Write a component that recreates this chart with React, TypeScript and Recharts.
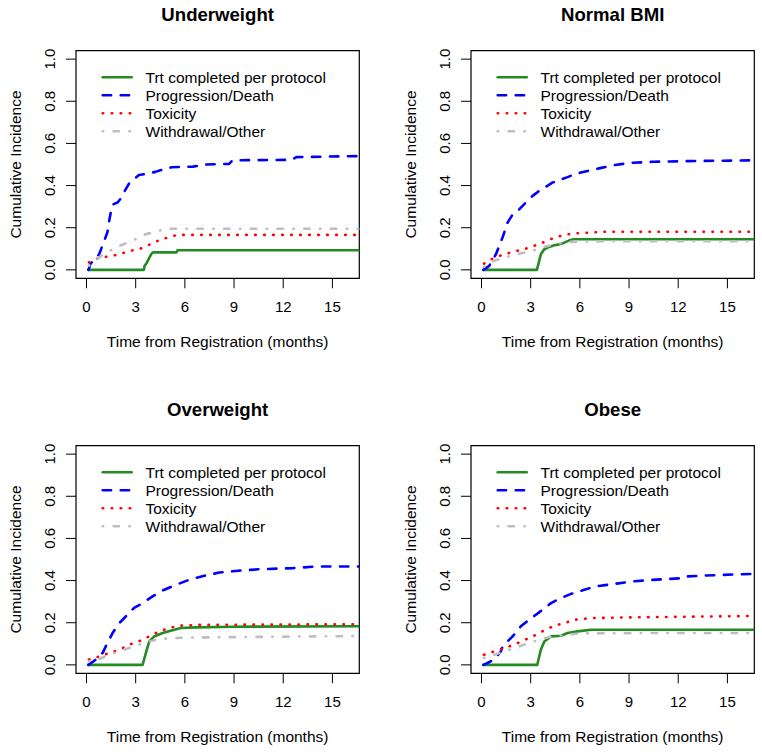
import React from 'react';
import { LineChart, Line, XAxis, YAxis, ReferenceArea, Legend } from 'recharts';

type Pt = [number, number];

// ---------- tick labels / categories ----------
const X_TICKS = [0, 3, 6, 9, 12, 15];
const Y_TICKS = [0, 0.2, 0.4, 0.6, 0.8, 1.0];
const Y_TICK_LABELS = ['0.0', '0.2', '0.4', '0.6', '0.8', '1.0'];
const SERIES_NAMES = ['Trt completed per protocol', 'Progression/Death', 'Toxicity', 'Withdrawal/Other'];
const PANEL_TITLES = ['Underweight', 'Normal BMI', 'Overweight', 'Obese'];
const X_TITLE = 'Time from Registration (months)';
const Y_TITLE = 'Cumulative Incidence';

// ---------- Underweight ----------
const uwTrt: Pt[] = [[0.1, 0], [3.5, 0], [3.55, 0.02], [3.65, 0.03], [3.75, 0.045], [3.85, 0.06], [3.95, 0.075], [4.05, 0.083], [5.5, 0.083], [5.55, 0.093], [16.64, 0.093]];
const uwProg: Pt[] = [[0.12, 0], [0.25, 0.03], [0.5, 0.05], [0.77, 0.074], [1.0, 0.12], [1.28, 0.18], [1.4, 0.24], [1.5, 0.28], [1.6, 0.31], [1.9, 0.32], [2.1, 0.34], [2.3, 0.37], [2.6, 0.41], [2.9, 0.43], [3.2, 0.45], [3.7, 0.456], [4.2, 0.465], [4.6, 0.475], [5.2, 0.487], [6.5, 0.49], [7.3, 0.5], [8.7, 0.503], [8.9, 0.52], [12.5, 0.522], [12.8, 0.535], [16.64, 0.54]];
const uwTox: Pt[] = [[0.15, 0.035], [0.5, 0.05], [1.0, 0.06], [1.5, 0.066], [2.0, 0.074], [2.6, 0.09], [3.2, 0.098], [3.7, 0.114], [4.1, 0.13], [4.6, 0.145], [5.2, 0.16], [5.6, 0.166], [16.64, 0.166]];
const uwWd: Pt[] = [[0.15, 0.02], [0.55, 0.043], [1.0, 0.074], [1.4, 0.09], [2.0, 0.114], [2.6, 0.132], [3.2, 0.153], [3.6, 0.169], [4.2, 0.181], [4.7, 0.192], [5.2, 0.195], [16.64, 0.195]];

// ---------- Normal BMI ----------
const nbTrt: Pt[] = [[0.1, 0], [3.38, 0], [3.52, 0.043], [3.62, 0.074], [3.83, 0.098], [4.13, 0.109], [4.44, 0.117], [4.74, 0.121], [5.05, 0.129], [5.36, 0.14], [5.66, 0.145], [16.64, 0.145]];
const nbProg: Pt[] = [[0.12, 0], [0.47, 0.019], [0.88, 0.074], [1.28, 0.153], [1.59, 0.224], [1.9, 0.263], [2.3, 0.287], [2.7, 0.319], [3.1, 0.35], [3.5, 0.374], [3.9, 0.393], [4.3, 0.413], [4.85, 0.429], [5.25, 0.44], [5.75, 0.456], [6.4, 0.468], [7.3, 0.484], [8.1, 0.497], [9.1, 0.508], [10.5, 0.513], [12.6, 0.516], [16.64, 0.52]];
const nbTox: Pt[] = [[0.15, 0.03], [0.77, 0.058], [1.38, 0.074], [2.0, 0.087], [2.6, 0.098], [3.2, 0.114], [3.83, 0.132], [4.44, 0.153], [5.05, 0.166], [5.66, 0.173], [7.5, 0.181], [16.64, 0.181]];
const nbWd: Pt[] = [[0.15, 0.014], [0.77, 0.043], [1.38, 0.058], [2.0, 0.071], [2.6, 0.082], [3.2, 0.093], [3.83, 0.109], [4.44, 0.121], [5.05, 0.131], [5.66, 0.134], [8, 0.136], [16.64, 0.136]];

// ---------- Overweight ----------
const owTrt: Pt[] = [[0.1, 0], [3.42, 0], [3.62, 0.056], [3.83, 0.111], [4.13, 0.135], [4.64, 0.151], [5.25, 0.164], [5.76, 0.175], [6.68, 0.178], [9, 0.181], [16.64, 0.183]];
const owProg: Pt[] = [[0.12, 0], [0.57, 0.025], [0.98, 0.056], [1.28, 0.104], [1.59, 0.151], [2.0, 0.198], [2.5, 0.238], [2.9, 0.27], [3.42, 0.293], [4.03, 0.325], [4.64, 0.353], [5.46, 0.38], [6.27, 0.404], [7.19, 0.423], [8.1, 0.438], [9.3, 0.447], [10.55, 0.454], [12.6, 0.459], [14.0, 0.467], [16.64, 0.467]];
const owTox: Pt[] = [[0.15, 0.025], [0.77, 0.04], [1.38, 0.056], [2.0, 0.072], [2.6, 0.096], [3.2, 0.112], [3.83, 0.135], [4.44, 0.159], [5.05, 0.175], [5.66, 0.186], [7, 0.19], [16.64, 0.193]];
const owWd: Pt[] = [[0.15, 0.017], [0.77, 0.028], [1.38, 0.048], [2.0, 0.064], [2.6, 0.08], [3.2, 0.096], [3.83, 0.111], [4.44, 0.122], [5.25, 0.127], [6.47, 0.13], [9.5, 0.132], [16.64, 0.137]];

// ---------- Obese ----------
const obTrt: Pt[] = [[0.1, 0], [3.4, 0], [3.52, 0.04], [3.62, 0.072], [3.83, 0.111], [4.24, 0.135], [4.85, 0.138], [5.25, 0.151], [5.86, 0.159], [6.68, 0.167], [16.64, 0.167]];
const obProg: Pt[] = [[0.12, 0], [0.37, 0.009], [0.77, 0.025], [1.18, 0.064], [1.3, 0.09], [1.9, 0.135], [2.4, 0.183], [2.9, 0.214], [3.32, 0.238], [3.73, 0.262], [4.24, 0.293], [4.85, 0.317], [5.46, 0.337], [6.27, 0.356], [6.9, 0.372], [8.1, 0.384], [9.1, 0.395], [10.35, 0.403], [12.2, 0.411], [12.4, 0.419], [13.6, 0.424], [16.64, 0.432]];
const obTox: Pt[] = [[0.15, 0.048], [0.77, 0.064], [1.38, 0.08], [2.0, 0.096], [2.6, 0.117], [3.2, 0.138], [3.83, 0.164], [4.44, 0.186], [5.05, 0.198], [5.66, 0.214], [6.68, 0.222], [9.5, 0.226], [16.64, 0.232]];
const obWd: Pt[] = [[0.15, 0.033], [0.77, 0.048], [1.38, 0.064], [2.0, 0.08], [2.6, 0.096], [3.2, 0.111], [3.83, 0.127], [4.44, 0.135], [5.05, 0.143], [6.07, 0.149], [9.5, 0.151], [16.64, 0.151]];

const PANEL_SERIES: Pt[][][] = [
  [uwTrt, uwProg, uwTox, uwWd],
  [nbTrt, nbProg, nbTox, nbWd],
  [owTrt, owProg, owTox, owWd],
  [obTrt, obProg, obTox, obWd],
];

// ---------- styles ----------
const FONT = '"Liberation Sans", Arial, Helvetica, sans-serif';
const SERIES_STYLE = [
  { color: '#228B22', dash: undefined as string | undefined },
  { color: '#0000FF', dash: '8.4 9.6' },
  { color: '#FF0000', dash: '0.5 8.5' },
  { color: '#BEBEBE', dash: '0.5 10.4 5.4 10.4' },
];
const LINE_W = 2.6;
const X_DOMAIN: [number, number] = [-0.64, 16.64];
const Y_DOMAIN: [number, number] = [-0.04, 1.04];

const W = 366;
const H = 358;
const PLOT = { left: 76, top: 50.7, right: 359.3, bottom: 278.3 };
const Y_AXIS_W = 60;
const X_AXIS_H = 40;
const PANEL_POS = [
  { left: 0, top: 0 },
  { left: 395.3, top: 0 },
  { left: 0, top: 394.6 },
  { left: 395.3, top: 394.6 },
];
const LEGEND_POS = { left: 95, top: 66 };

const YTick = (props: any) => {
  const { y, payload } = props;
  const bx = 55;
  const idx = Y_TICKS.indexOf(payload.value);
  const label = idx >= 0 ? Y_TICK_LABELS[idx] : Number(payload.value).toFixed(1);
  return (
    <text
      x={bx}
      y={y}
      transform={`rotate(-90 ${bx} ${y})`}
      textAnchor="middle"
      fill="#000"
      fontSize={15}
      fontFamily={FONT}
    >
      {label}
    </text>
  );
};

const LegendContent = () => {
  const rows = SERIES_NAMES.map((name, i) => {
    const cy = 77.3 + 18 * i - LEGEND_POS.top;
    const st = SERIES_STYLE[i];
    return (
      <g key={name}>
        <line
          x1={102.7 - LEGEND_POS.left}
          x2={131.7 - LEGEND_POS.left}
          y1={cy}
          y2={cy}
          stroke={st.color}
          strokeWidth={LINE_W}
          strokeDasharray={st.dash}
          strokeLinecap="round"
        />
        <text x={145.5 - LEGEND_POS.left} y={cy + 5.5} fontSize={15.5} fontFamily={FONT} fill="#000">
          {name}
        </text>
      </g>
    );
  });
  return (
    <svg width={260} height={80} style={{ display: 'block', overflow: 'visible' }}>
      {rows}
    </svg>
  );
};

function Panel({ index }: { index: number }) {
  const pos = PANEL_POS[index];
  const series = PANEL_SERIES[index];
  const cx = (PLOT.left + PLOT.right) / 2;
  const cy = (PLOT.top + PLOT.bottom) / 2;
  return (
    <div style={{ position: 'absolute', left: pos.left, top: pos.top, width: W, height: H }}>
      <LineChart
        width={W}
        height={H}
        margin={{
          top: PLOT.top,
          right: W - PLOT.right,
          bottom: H - PLOT.bottom - X_AXIS_H,
          left: PLOT.left - Y_AXIS_W,
        }}
      >
        <XAxis
          type="number"
          dataKey="t"
          domain={X_DOMAIN}
          ticks={X_TICKS}
          allowDataOverflow
          interval={0}
          height={X_AXIS_H}
          axisLine={false}
          tickLine={{ stroke: '#000', strokeWidth: 1 }}
          tickSize={10}
          tickMargin={13}
          tick={{ fill: '#000', fontSize: 15, fontFamily: FONT }}
        />
        <YAxis
          type="number"
          domain={Y_DOMAIN}
          ticks={Y_TICKS}
          allowDataOverflow
          interval={0}
          width={Y_AXIS_W}
          axisLine={false}
          tickLine={{ stroke: '#000', strokeWidth: 1 }}
          tickSize={10}
          tick={(p: any) => <YTick {...p} />}
        />
        <ReferenceArea
          x1={X_DOMAIN[0]}
          x2={X_DOMAIN[1]}
          y1={Y_DOMAIN[0]}
          y2={Y_DOMAIN[1]}
          fill="none"
          fillOpacity={0}
          stroke="#000"
          strokeWidth={1.2}
          ifOverflow="visible"
        />
        {series.map((pts, i) => (
          <Line
            key={SERIES_NAMES[i]}
            name={SERIES_NAMES[i]}
            data={pts.map(([t, v]) => ({ t, v }))}
            dataKey="v"
            type="linear"
            stroke={SERIES_STYLE[i].color}
            strokeWidth={LINE_W}
            strokeDasharray={SERIES_STYLE[i].dash}
            strokeLinecap="round"
            strokeLinejoin="round"
            dot={false}
            activeDot={false}
            isAnimationActive={false}
          />
        ))}
        <Legend
          layout="vertical"
          align="center"
          verticalAlign="middle"
          width={260}
          wrapperStyle={{ left: LEGEND_POS.left, top: LEGEND_POS.top, width: 260, height: 80 }}
          content={LegendContent}
        />
      </LineChart>
      <svg
        width={W}
        height={H}
        style={{ position: 'absolute', left: 0, top: 0, pointerEvents: 'none' }}
      >
        <text x={cx} y={20.7} textAnchor="middle" fontWeight="bold" fontSize={18.6} fontFamily={FONT} fill="#000">
          {PANEL_TITLES[index]}
        </text>
        <text x={cx} y={347} textAnchor="middle" fontSize={15.5} fontFamily={FONT} fill="#000">
          {X_TITLE}
        </text>
        <text
          x={20.7}
          y={cy}
          transform={`rotate(-90 20.7 ${cy})`}
          textAnchor="middle"
          fontSize={15.5}
          fontFamily={FONT}
          fill="#000"
        >
          {Y_TITLE}
        </text>
      </svg>
    </div>
  );
}

export default function App() {
  return (
    <div
      style={{
        position: 'absolute',
        left: 0,
        top: 0,
        width: 762,
        height: 753,
        overflow: 'hidden',
        background: '#fff',
      }}
    >
      {PANEL_TITLES.map((_, i) => (
        <Panel key={i} index={i} />
      ))}
    </div>
  );
}
